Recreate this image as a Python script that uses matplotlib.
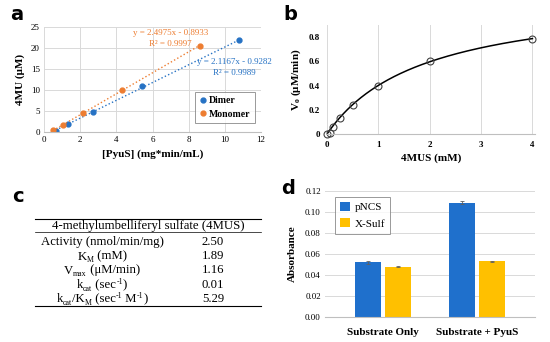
import matplotlib
matplotlib.use('Agg')
import matplotlib.pyplot as plt
import numpy as np

# panel a: activity vs enzyme
dimer_x = [0.65, 1.35, 2.7, 5.4, 10.8]
dimer_y = [0.3, 1.9, 4.7, 11.0, 21.8]
mono_x = [0.5, 1.05, 2.15, 4.3, 8.6]
mono_y = [0.4, 1.7, 4.5, 10.1, 20.5]
dimer_fit = (2.1167, -0.9282, 0.9989)
mono_fit = (2.4975, -0.8933, 0.9997)

# panel b: Michaelis-Menten
sub_mM = [0, 0.0625, 0.125, 0.25, 0.5, 1, 2, 4]
v0 = [0.0, 0.01, 0.055, 0.13, 0.24, 0.40, 0.605, 0.785]

# panel c: kinetic table ('n' normal, 'sub', 'sup')
table_header = '4-methylumbelliferyl sulfate (4MUS)'
row_labels = [
    [('Activity (nmol/min/mg)', 'n')],
    [('K', 'n'), ('M', 'sub'), (' (mM)', 'n')],
    [('V', 'n'), ('max', 'sub'), (' (μM/min)', 'n')],
    [('k', 'n'), ('cat', 'sub'), (' (sec', 'n'), ('-1', 'sup'), (')', 'n')],
    [('k', 'n'), ('cat', 'sub'), ('/K', 'n'), ('M', 'sub'), (' (sec', 'n'), ('-1', 'sup'),
     (' M', 'n'), ('-1', 'sup'), (')', 'n')],
]
row_values = ['2.50', '1.89', '1.16', '0.01', '5.29']
km, vmax = 1.89, 1.16

# panel d: absorbance
groups = ['Substrate Only', 'Substrate + PyuS']
pncs = [0.052, 0.109]
pncs_err = [0.0012, 0.0018]
xsulf = [0.048, 0.053]
xsulf_err = [0.0006, 0.0004]

BLUE = '#2672c4'
ORANGE = '#ed7d31'
BAR_BLUE = '#1f70cc'
BAR_YELLOW = '#ffc000'
GRID = '#d9d9d9'
SERIF = 'Liberation Serif'

plt.rcParams['font.family'] = SERIF
plt.rcParams['mathtext.fontset'] = 'custom'
plt.rcParams['mathtext.rm'] = SERIF
plt.rcParams['mathtext.it'] = SERIF

W, H = 550, 342
fig = plt.figure(figsize=(5.5, 3.42), dpi=100)
renderer = fig.canvas.get_renderer()


def box(l, t, r, b):
    return [l / W, 1 - b / H, (r - l) / W, (b - t) / H]


def fx(x):
    return x / W


def fy(y):
    return 1 - y / H


def style(ax):
    for s in ['top', 'right', 'left']:
        ax.spines[s].set_visible(False)
    ax.spines['bottom'].set_color('#bfbfbf')
    ax.tick_params(length=0, labelsize=6.5, pad=3)


def rich_text(cx, base_y, segs, size):
    # centred run of text with small sub/superscripts, pixel coords from top-left
    parts, total = [], 0
    for s, kind in segs:
        fs = size if kind == 'n' else size * 0.62
        dy = {'n': 0, 'sub': -2.2, 'sup': 4.0}[kind]
        t = fig.text(0, 0, s, fontsize=fs, ha='left', va='baseline')
        w = t.get_window_extent(renderer).width
        parts.append((t, total, dy))
        total += w
    start = cx - total / 2
    for t, off, dy in parts:
        t.set_position((fx(start + off), fy(base_y - dy)))


# ---- a ----
ax = fig.add_axes(box(44, 27, 261, 132))
style(ax)
ax.grid(True, color=GRID, lw=0.7)
ax.set_axisbelow(True)
ax.set_xlim(0, 12)
ax.set_ylim(0, 25)
ax.set_xticks(range(0, 13, 2))
ax.set_yticks(range(0, 26, 5))
for xs, ys, fit, c, lab in [(dimer_x, dimer_y, dimer_fit, BLUE, 'Dimer'),
                             (mono_x, mono_y, mono_fit, ORANGE, 'Monomer')]:
    xx = np.array([xs[0], xs[-1]])
    ax.plot(xx, fit[0] * xx + fit[1], ls=':', color=c, lw=1)
    ax.plot(xs, ys, 'o', color=c, ms=3.5, label=lab)
ax.text(7.0, 22.3, 'y = 2.4975x - 0.8933\nR² = 0.9997', color=ORANGE,
        fontsize=6.5, ha='center', va='center', linespacing=1.5)
ax.text(10.55, 15.3, 'y = 2.1167x - 0.9282\nR² = 0.9989', color=BLUE,
        fontsize=6.5, ha='center', va='center', linespacing=1.5, clip_on=False)
leg = ax.legend(loc='lower right', bbox_to_anchor=(0.972, 0.086),
                prop={'weight': 'bold', 'size': 7}, frameon=True, fancybox=False,
                handletextpad=0.2, handlelength=0.8, borderpad=0.45, labelspacing=0.45,
                borderaxespad=0)
leg.get_frame().set_edgecolor('#808080')
leg.get_frame().set_linewidth(0.7)
ax.set_xlabel('[PyuS] (mg*min/mL)', fontsize=8, fontweight='bold', labelpad=4)
ax.set_ylabel('4MU (μM)', fontsize=8, fontweight='bold', labelpad=4)

# ---- b ----
ax = fig.add_axes(box(327, 25, 535, 134))
style(ax)
ax.grid(True, axis='x', color=GRID, lw=0.7)
ax.set_axisbelow(True)
ax.set_xlim(0, 4.05)
ax.set_ylim(0, 0.9)
ax.set_xticks(range(0, 5))
ax.set_yticks([0, 0.2, 0.4, 0.6, 0.8])
ax.set_yticklabels(['0', '0.2', '0.4', '0.6', '0.8'])
ax.tick_params(labelsize=6.5, pad=5)
for lab in ax.get_xticklabels() + ax.get_yticklabels():
    lab.set_fontweight('bold')
sc = np.linspace(0, 4, 200)
ax.plot(sc, vmax * sc / (km + sc), color='black', lw=1.1)
ax.plot(sub_mM, v0, 'o', mfc='none', mec='#404040', ms=5, mew=0.8, clip_on=False)
ax.set_xlabel('4MUS (mM)', fontsize=8, fontweight='bold', labelpad=3)
ax.set_ylabel(r'V$_{\mathregular{o}}$ (μM/min)', fontsize=8, fontweight='bold', labelpad=4)

# ---- c ----
for yy, lw in [(219, 0.8), (232, 0.5), (306, 0.8)]:
    fig.add_artist(plt.Line2D([fx(35), fx(261)], [fy(yy), fy(yy)], color='black', lw=lw))
fig.text(fx(148), fy(226), table_header, fontsize=9.2, ha='center', va='center')
row_y = [242, 256, 270, 285, 299]
for yy, segs, val in zip(row_y, row_labels, row_values):
    rich_text(102, yy + 3.5, segs, 9.2)
    fig.text(fx(213), fy(yy), val, fontsize=9.2, ha='center', va='center')

# ---- d ----
ax = fig.add_axes(box(325, 191, 535, 317))
style(ax)
ax.grid(True, axis='y', color=GRID, lw=0.7)
ax.set_axisbelow(True)
x = np.arange(len(groups))
wd = 0.28
ekw = dict(ecolor='#606060', capsize=1.5, elinewidth=0.6, capthick=0.6)
ax.bar(x - 0.16, pncs, wd, yerr=pncs_err, color=BAR_BLUE, label='pNCS', error_kw=ekw)
ax.bar(x + 0.16, xsulf, wd, yerr=xsulf_err, color=BAR_YELLOW, label='X-Sulf', error_kw=ekw)
ax.set_xlim(-0.62, 1.62)
ax.set_ylim(0, 0.12)
ticks = np.arange(0, 0.121, 0.02)
ax.set_yticks(ticks)
ax.set_yticklabels([f'{v:.2f}' for v in ticks])
ax.set_xticks(x)
ax.set_xticklabels(groups, fontsize=8, fontweight='bold')
ax.tick_params(axis='x', pad=8)
ax.set_ylabel('Absorbance', fontsize=8, fontweight='bold', labelpad=6)
leg = ax.legend(loc='upper left', bbox_to_anchor=(0.048, 0.955), prop={'size': 8},
                frameon=True, fancybox=False, handlelength=0.9, handleheight=0.9,
                handletextpad=0.4, borderpad=0.45, labelspacing=0.55, borderaxespad=0)
leg.get_frame().set_edgecolor('#808080')
leg.get_frame().set_linewidth(0.7)

# panel letters
for lx, ly, t in [(17, 15, 'a'), (290, 15, 'b'), (18, 196, 'c'), (288, 188, 'd')]:
    fig.text(fx(lx), fy(ly), t, fontsize=14, fontweight='bold', family='DejaVu Sans',
             ha='center', va='center')

fig.savefig('out.png', dpi=100)
